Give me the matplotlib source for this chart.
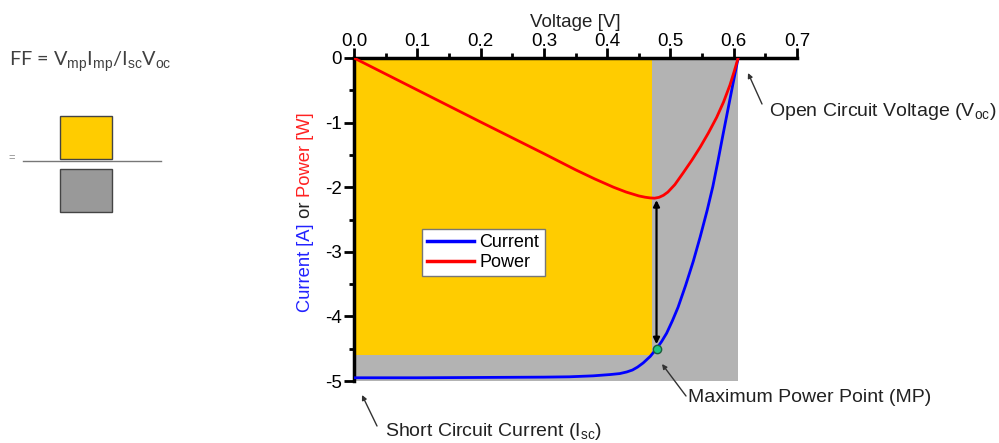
import matplotlib
matplotlib.use("Agg")
import matplotlib.pyplot as plt
from matplotlib.patches import Rectangle

plt.rcParams['font.family'] = ['Liberation Sans', 'DejaVu Sans']
plt.rcParams['mathtext.fontset'] = 'custom'
plt.rcParams['mathtext.rm'] = 'Liberation Sans'

# I-V curve of the cell (current is negative by convention here)
voltage = [0.0, 0.1, 0.2, 0.3, 0.34, 0.378, 0.405, 0.42, 0.431, 0.44, 0.448, 0.457, 0.468, 0.478,
           0.486, 0.494, 0.503, 0.512, 0.524, 0.536, 0.547, 0.558, 0.567, 0.575, 0.583, 0.591, 0.599, 0.607]
current = [-4.95, -4.95, -4.945, -4.94, -4.935, -4.92, -4.90, -4.885, -4.86, -4.83, -4.785, -4.72, -4.62, -4.50,
           -4.39, -4.26, -4.07, -3.86, -3.52, -3.15, -2.77, -2.36, -1.99, -1.60, -1.19, -0.79, -0.39, 0.0]

# power curve
p_voltage = [0.0, 0.1, 0.2, 0.3, 0.35, 0.38, 0.41, 0.43, 0.44, 0.45, 0.46, 0.468, 0.475,
             0.482, 0.489, 0.496, 0.507, 0.52, 0.534, 0.547, 0.56, 0.573, 0.584, 0.594, 0.601, 0.607]
power = [0.0, -0.495, -0.99, -1.48, -1.73, -1.87, -2.00, -2.075, -2.105, -2.135, -2.155, -2.166, -2.17,
         -2.157, -2.125, -2.075, -1.96, -1.78, -1.58, -1.38, -1.16, -0.92, -0.68, -0.42, -0.20, 0.0]

v_oc = 0.607
i_box = -5.0          # lower edge of the Voc x Isc area
v_mp_box = 0.471
i_mp_box = -4.6
mp_v = 0.478
mp_i = -4.50
p_min = -2.17

x_ticks = [0.0, 0.1, 0.2, 0.3, 0.4, 0.5, 0.6, 0.7]
y_ticks = [0, -1, -2, -3, -4, -5]

W, H = 999, 443
fig = plt.figure(figsize=(W / 100, H / 100), dpi=100)
ax = fig.add_axes([354 / W, 1 - 381 / H, (797 - 354) / W, (381 - 58) / H])

ax.add_patch(Rectangle((0, i_box), v_oc, -i_box, facecolor='#b3b3b3', edgecolor='none', zorder=1))
ax.add_patch(Rectangle((0, i_mp_box), v_mp_box, -i_mp_box, facecolor='#ffcc00', edgecolor='none', zorder=2))

ax.plot(voltage, current, color='#0000ff', lw=2, label='Current', zorder=4, solid_joinstyle='round')
ax.plot(p_voltage, power, color='#ff0000', lw=2, label='Power', zorder=4, solid_joinstyle='round')

ax.annotate('', xy=(mp_v, mp_i + 0.07), xytext=(mp_v, p_min - 0.03),
            arrowprops=dict(arrowstyle='<|-|>', color='black', lw=1.6,
                            mutation_scale=9, shrinkA=0, shrinkB=0), zorder=5)
ax.plot([mp_v], [mp_i], 'o', ms=6, mfc='#1fc47f', mec='#1b5e3a', mew=1, zorder=6)

ax.set_xlim(0, 0.7)
ax.set_ylim(-5, 0)
ax.xaxis.tick_top()
ax.xaxis.set_label_position('top')
ax.set_xticks(x_ticks)
ax.set_xticklabels(['%.1f' % v for v in x_ticks])
ax.set_xticks([0.05, 0.15, 0.25, 0.35, 0.45, 0.55, 0.65], minor=True)
ax.set_yticks(y_ticks)
ax.set_yticklabels(['%d' % v if v == 0 else '-%d' % abs(v) for v in y_ticks])
ax.set_yticks([-0.5, -1.5, -2.5, -3.5, -4.5], minor=True)
ax.tick_params(which='major', length=7, width=2, labelsize=13.5, colors='black')
ax.tick_params(axis='x', which='major', pad=-1)
ax.tick_params(axis='y', which='major', pad=2)
ax.tick_params(which='minor', length=3.5, width=2)
ax.set_xlabel('Voltage [V]', fontsize=13.5, labelpad=4, color='#222222')
for side in ['bottom', 'right']:
    ax.spines[side].set_visible(False)
for side in ['top', 'left']:
    ax.spines[side].set_linewidth(2.5)
ax.patch.set_alpha(0)

leg = ax.legend(loc='upper left', bbox_to_anchor=(0.153, 0.471), fontsize=13, frameon=True,
                fancybox=False, edgecolor='#777777', framealpha=1, handlelength=2.6,
                handletextpad=0.3, borderpad=0.3, labelspacing=0.15, borderaxespad=0)
leg.get_frame().set_linewidth(1)
for line in leg.get_lines():
    line.set_linewidth(2.5)

# annotations for the special points
arrow_kw = dict(arrowstyle='-|>', color='#333333', lw=1, mutation_scale=7, shrinkA=0, shrinkB=0)
fig.text(769 / W, 1 - 112 / H, 'Open Circuit Voltage (V$_{\\mathrm{oc}}$)', fontsize=14,
         color='#222222', ha='left', va='center')
ax.annotate('', xy=(748 / W, 1 - 73 / H), xycoords='figure fraction',
            xytext=(762 / W, 1 - 104 / H), textcoords='figure fraction', arrowprops=arrow_kw)
fig.text(688 / W, 1 - 398 / H, 'Maximum Power Point (MP)', fontsize=14,
         color='#222222', ha='left', va='center')
ax.annotate('', xy=(662 / W, 1 - 364 / H), xycoords='figure fraction',
            xytext=(686 / W, 1 - 396 / H), textcoords='figure fraction', arrowprops=arrow_kw)
fig.text(385 / W, 1 - 431 / H, 'Short Circuit Current (I$_{\\mathrm{sc}}$)', fontsize=14,
         color='#222222', ha='left', va='center')
ax.annotate('', xy=(362 / W, 1 - 395 / H), xycoords='figure fraction',
            xytext=(377 / W, 1 - 426 / H), textcoords='figure fraction', arrowprops=arrow_kw)

# fill factor sketch on the left
fig.text(9 / W, 1 - 62 / H, 'FF = V$_{\\mathrm{mp}}$I$_{\\mathrm{mp}}$/I$_{\\mathrm{sc}}$V$_{\\mathrm{oc}}$',
         fontsize=14.3, color='#404040', ha='left', va='center', family=['Lato', 'DejaVu Sans'])
fig.patches.append(Rectangle((60 / W, 1 - 159 / H), 52 / W, 43 / H, transform=fig.transFigure,
                             facecolor='#ffcc00', edgecolor='#444444', lw=1))
fig.patches.append(Rectangle((60 / W, 1 - 212 / H), 52 / W, 43 / H, transform=fig.transFigure,
                             facecolor='#999999', edgecolor='#444444', lw=1))
fig.lines.append(plt.Line2D([23 / W, 161 / W], [1 - 161 / H, 1 - 161 / H], transform=fig.transFigure,
                            color='#777777', lw=1))
fig.text(8 / W, 1 - 158 / H, '=', fontsize=8, color='#888888', ha='left', va='center')

# y label in three colours, stacked bottom to top
fig.canvas.draw()
renderer = fig.canvas.get_renderer()
y_pos = 1 - 312 / H
for part, col in [('Current [A]', '#2222ff'), (' or ', '#222222'), ('Power [W]', '#ff2222')]:
    t = fig.text(305 / W, y_pos, part, rotation=90, color=col, fontsize=13.2,
                 ha='center', va='bottom')
    bb = t.get_window_extent(renderer)
    y_pos = bb.y1 / fig.bbox.height

fig.savefig('out.png', dpi=100)
